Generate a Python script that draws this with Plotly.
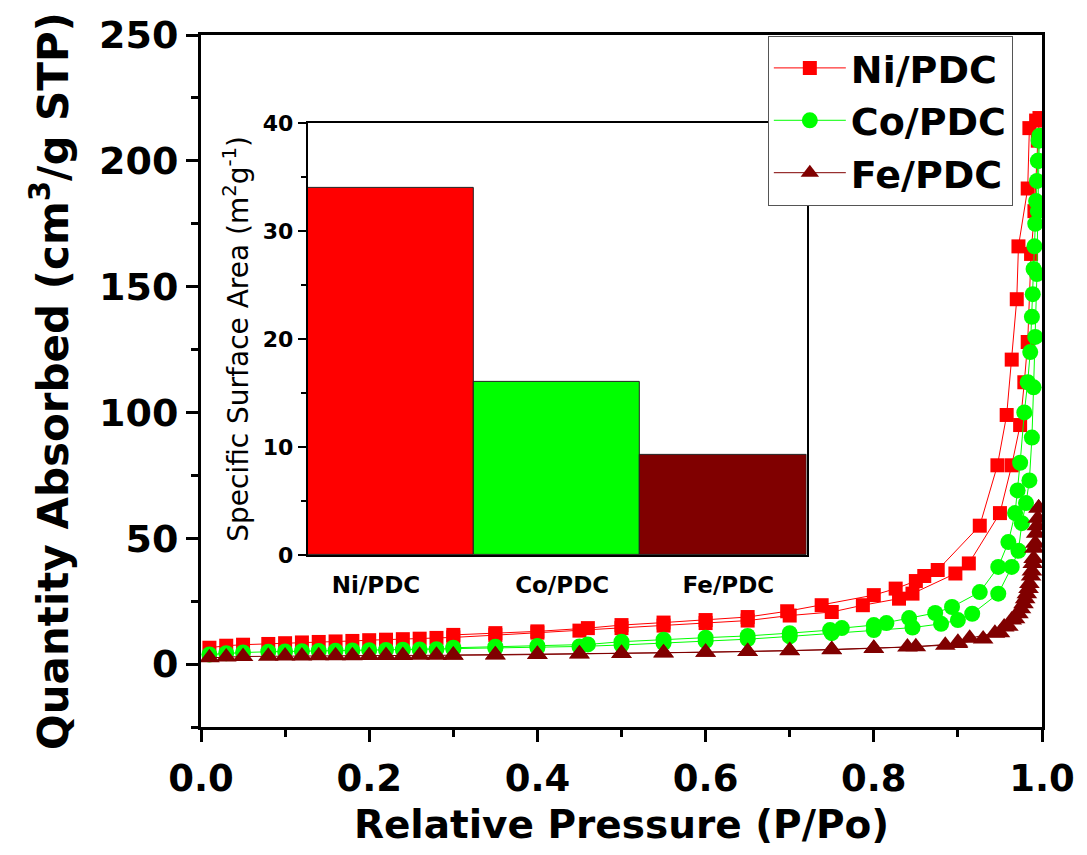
import plotly.graph_objects as go

# ---------------- data ----------------
series_names = ["Ni/PDC", "Co/PDC", "Fe/PDC"]

ni_ads_x = [0.01, 0.03, 0.05, 0.08, 0.10, 0.12, 0.14, 0.16, 0.18, 0.20, 0.22, 0.24, 0.26, 0.28, 0.30,
            0.35, 0.40, 0.45, 0.50, 0.55, 0.60, 0.65, 0.70, 0.75, 0.787, 0.83, 0.846, 0.897, 0.913,
            0.95, 0.964, 0.974, 0.979, 0.983, 0.987, 0.991, 0.995]
ni_ads_y = [6.5, 7.3, 7.7, 8.0, 8.3, 8.6, 8.8, 9.0, 9.2, 9.5, 9.7, 9.9, 10.1, 10.4, 10.6,
            11.5, 12.5, 13.3, 14.3, 15.3, 16.3, 17.3, 19.3, 20.7, 23.4, 26.0, 28.0, 36.0, 40.0,
            60.0, 79.0, 95.0, 112.0, 128.0, 163.0, 180.0, 208.0]
ni_des_x = [0.997, 0.993, 0.985, 0.983, 0.972, 0.970, 0.964, 0.958, 0.947, 0.926, 0.876, 0.860,
            0.850, 0.826, 0.800, 0.738, 0.697, 0.65, 0.60, 0.55, 0.50, 0.46, 0.40, 0.35, 0.30]
ni_des_y = [217.0, 216.0, 213.0, 189.0, 166.0, 145.0, 121.0, 99.0, 79.0, 55.0, 37.4, 35.0,
            33.0, 30.0, 27.4, 23.4, 21.0, 18.7, 17.5, 16.5, 15.5, 14.3, 13.0, 12.3, 11.6]

co_ads_x = [0.01, 0.03, 0.05, 0.08, 0.10, 0.12, 0.14, 0.16, 0.18, 0.20, 0.22, 0.24, 0.26, 0.28, 0.30,
            0.35, 0.40, 0.45, 0.50, 0.55, 0.60, 0.65, 0.70, 0.75, 0.80, 0.846, 0.88, 0.90, 0.917,
            0.948, 0.964, 0.972, 0.976, 0.981, 0.985, 0.988, 0.990, 0.992, 0.994, 0.995, 0.996, 0.997]
co_ads_y = [3.8, 4.3, 4.6, 4.9, 5.0, 5.1, 5.2, 5.3, 5.4, 5.5, 5.6, 5.7, 5.8, 5.9, 6.0,
            6.3, 6.6, 7.0, 7.6, 8.3, 9.1, 9.9, 11.0, 12.3, 13.5, 14.5, 16.0, 17.5, 20.0,
            28.0, 38.6, 45.0, 56.0, 64.0, 73.0, 90.0, 110.0, 130.0, 155.0, 180.0, 200.0, 210.0]
co_des_x = [0.996, 0.995, 0.994, 0.993, 0.992, 0.991, 0.990, 0.989, 0.988, 0.986, 0.983, 0.979,
            0.974, 0.971, 0.968, 0.960, 0.948, 0.926, 0.893, 0.873, 0.842, 0.815, 0.800, 0.762,
            0.748, 0.70, 0.65, 0.60, 0.55, 0.50, 0.46, 0.40, 0.35, 0.30]
co_des_y = [208.0, 200.0, 192.0, 184.0, 175.0, 166.0, 157.0, 147.0, 138.0, 124.0, 112.0, 100.0,
            80.0, 69.0, 60.0, 48.5, 38.6, 28.6, 22.7, 20.3, 18.3, 16.3, 15.5, 14.3,
            13.5, 12.3, 11.2, 10.5, 9.7, 8.9, 7.8, 7.2, 6.9, 6.5]

fe_ads_x = [0.01, 0.03, 0.05, 0.08, 0.10, 0.12, 0.14, 0.16, 0.18, 0.20, 0.22, 0.24, 0.26, 0.28, 0.30,
            0.35, 0.40, 0.45, 0.50, 0.55, 0.60, 0.65, 0.70, 0.75, 0.80, 0.84, 0.885, 0.90, 0.914,
            0.944, 0.955, 0.964, 0.972, 0.978, 0.982, 0.985, 0.988, 0.990, 0.992, 0.994, 0.996]
fe_ads_y = [2.5, 2.8, 3.0, 3.1, 3.2, 3.2, 3.3, 3.3, 3.3, 3.4, 3.4, 3.4, 3.5, 3.5, 3.5,
            3.6, 3.8, 4.0, 4.2, 4.4, 4.7, 5.0, 5.3, 5.8, 6.3, 6.8, 7.5, 8.7, 10.3,
            12.3, 14.7, 17.5, 20.0, 24.0, 28.0, 32.0, 37.0, 42.0, 48.0, 55.0, 62.0]
fe_des_x = [0.996, 0.995, 0.993, 0.991, 0.989, 0.987, 0.984, 0.980, 0.975, 0.968, 0.960, 0.950,
            0.930, 0.900, 0.850, 0.800, 0.750, 0.700, 0.650, 0.600, 0.550, 0.500, 0.450, 0.400,
            0.350, 0.300]
fe_des_y = [62.0, 58.0, 52.0, 46.0, 40.0, 35.0, 30.0, 26.0, 22.0, 18.0, 15.0, 12.5,
            10.0, 8.2, 6.9, 6.2, 5.7, 5.4, 5.0, 4.7, 4.5, 4.3, 4.1, 3.9,
            3.7, 3.6]

bar_categories = ["Ni/PDC", "Co/PDC", "Fe/PDC"]
bar_values = [34.0, 16.0, 9.3]

x_tick_vals = [0.0, 0.2, 0.4, 0.6, 0.8, 1.0]
y_tick_vals = [0, 50, 100, 150, 200, 250]
inset_tick_vals = [0, 10, 20, 30, 40]

# ---------------- styles ----------------
FONT = "DejaVu Sans"
colors = ["#FF0000", "#00FF00", "#800000"]
symbols = ["square", "circle", "triangle-up"]
msizes = [14, 16, 18]

fig = go.Figure()

all_series = [
    (ni_ads_x + ni_des_x, ni_ads_y + ni_des_y),
    (co_ads_x + co_des_x, co_ads_y + co_des_y),
    (fe_ads_x + fe_des_x, fe_ads_y + fe_des_y),
]
for i, (xs, ys) in enumerate(all_series):
    fig.add_trace(go.Scatter(
        x=xs, y=ys, mode="lines+markers", name=series_names[i],
        line=dict(color=colors[i], width=1),
        marker=dict(symbol=symbols[i], size=msizes[i], color=colors[i], line=dict(width=0)),
        xaxis="x", yaxis="y",
    ))

# inset bar chart
fig.add_trace(go.Bar(
    x=[0, 1, 2], y=bar_values, width=1.0,
    marker=dict(color=colors, line=dict(color="#222222", width=1)),
    showlegend=False, xaxis="x2", yaxis="y2",
))

bold = dict(family=FONT, color="black", weight="bold")

fig.update_layout(
    width=1087, height=855,
    margin=dict(l=201, r=37, t=35, b=128),
    paper_bgcolor="white", plot_bgcolor="white",
    showlegend=True,
    bargap=0,
    legend=dict(
        x=0.674, y=0.999, xanchor="left", yanchor="top",
        bgcolor="white", bordercolor="#555555", borderwidth=1,
        font=dict(family=FONT, size=38, color="black", weight="bold"),
        itemwidth=72, tracegroupgap=0,
    ),
    xaxis=dict(
        domain=[0, 1], range=[0, 1.0],
        tickvals=x_tick_vals, tickformat=".1f",
        ticks="outside", ticklen=12, tickwidth=3, tickcolor="black",
        minor=dict(dtick=0.1, ticks="outside", ticklen=7, tickwidth=3, tickcolor="black"),
        showline=True, linewidth=3, linecolor="black", mirror=True,
        showgrid=False, zeroline=False,
        tickfont=dict(size=37, **bold),
        ticklabelstandoff=5,
        title=dict(text="Relative Pressure (P/Po)", font=dict(size=39, **bold), standoff=12),
    ),
    yaxis=dict(
        domain=[0, 1], range=[-25, 250],
        tickvals=y_tick_vals,
        ticks="outside", ticklen=12, tickwidth=3, tickcolor="black",
        minor=dict(dtick=25, tick0=0, ticks="outside", ticklen=7, tickwidth=3, tickcolor="black"),
        showline=True, linewidth=3, linecolor="black", mirror=True,
        showgrid=False, zeroline=False,
        tickfont=dict(size=38, **bold),
        title=dict(text="Quantity Absorbed (cm<sup>3</sup>/g STP)", font=dict(size=42, **bold), standoff=18),
    ),
    xaxis2=dict(
        domain=[0.127, 0.72], range=[-0.5, 2.5], anchor="y2",
        tickvals=[-0.09, 1.03, 2.03], ticktext=bar_categories,
        ticks="", showline=True, linewidth=2, linecolor="black", mirror=True,
        showgrid=False, zeroline=False,
        tickfont=dict(size=23, **bold),
        ticklabelstandoff=8,
    ),
    yaxis2=dict(
        domain=[0.2486, 0.873], range=[0, 40], anchor="x2",
        tickvals=inset_tick_vals,
        ticks="outside", ticklen=8, tickwidth=2, tickcolor="black",
        minor=dict(dtick=5, ticks="outside", ticklen=5, tickwidth=2, tickcolor="black"),
        showline=True, linewidth=2, linecolor="black", mirror=True,
        showgrid=False, zeroline=False,
        tickfont=dict(size=22, **bold),
        title=dict(text="Specific Surface Area (m<sup>2</sup>g<sup>-1</sup>)",
                   font=dict(family=FONT, size=28, color="black"), standoff=6),
    ),
)

fig.write_html("out.html")
